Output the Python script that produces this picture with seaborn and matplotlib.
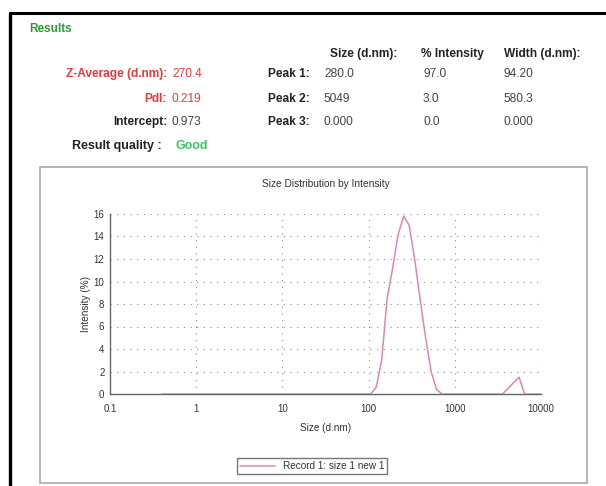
import matplotlib
matplotlib.use("Agg")
import matplotlib.pyplot as plt
import matplotlib.ticker as mticker
from matplotlib.lines import Line2D
from matplotlib.patches import Rectangle
import seaborn as sns

# size distribution (d.nm vs intensity %)
sizes = [0.4, 91.28, 105.7, 122.4, 141.8, 164.2, 190.1, 220.2, 255.0, 295.3, 342.0,
         396.1, 458.7, 531.2, 615.1, 712.4, 3580, 4145, 4801, 5560, 6439, 10000]
intensity = [0.0, 0.0, 0.0, 0.6, 3.0, 8.5, 11.2, 14.2, 15.8, 15.0, 12.0,
             8.4, 5.0, 2.0, 0.4, 0.0, 0.0, 0.5, 1.0, 1.5, 0.0, 0.0]
record_name = "Record 1: size 1 new 1"

# results table
left_labels = ["Z-Average (d.nm):", "PdI:", "Intercept:"]
left_values = ["270.4", "0.219", "0.973"]
left_colors = ["#e23b3b", "#e23b3b", "#222222"]
value_colors = ["#e23b3b", "#e23b3b", "#444444"]
peak_labels = ["Peak 1:", "Peak 2:", "Peak 3:"]
col_headers = ["Size (d.nm):", "% Intensity", "Width (d.nm):"]
peak_size = ["280.0", "5049", "0.000"]
peak_int = ["97.0", "3.0", "0.0"]
peak_width = ["94.20", "580.3", "0.000"]
quality = "Good"

W, H = 606, 486
sns.set_style("white")
plt.rcParams['font.family'] = ['Liberation Sans', 'DejaVu Sans']

fig = plt.figure(figsize=(W / 100, H / 100), dpi=100)

def px(x, y):
    return x / W, 1 - y / H

# outer black frame (only top and left visible) and inner grey box
fig.add_artist(Line2D([9.5 / W, 1], [1 - 13 / H, 1 - 13 / H], color="black", lw=2.2))
fig.add_artist(Line2D([9.5 / W, 9.5 / W], [0, 1 - 13 / H], color="black", lw=2.4))
fig.add_artist(Rectangle(px(40, 483), 547 / W, 316 / H, fill=False,
                         edgecolor="#b0b0b0", lw=1.3))

# header texts
fs = 8.6
fig.text(*px(29, 29), "Results", color="#2f9a35", fontsize=8.5, fontweight="bold", va="center")
for i, h in enumerate(col_headers):
    fig.text(*px([330, 421, 504][i], 54), h, fontsize=fs, fontweight="bold", color="#222", va="center")
rows_y = [74, 99, 122]
for i in range(3):
    y = rows_y[i]
    fig.text(*px(167, y), left_labels[i], fontsize=fs, fontweight="bold", color=left_colors[i],
             ha="right", va="center")
    fig.text(*px(172, y), left_values[i], fontsize=fs, color=value_colors[i], va="center")
    fig.text(*px(268, y), peak_labels[i], fontsize=fs, fontweight="bold", color="#222", va="center")
    fig.text(*px(324, y), peak_size[i], fontsize=fs, color="#444", va="center")
    fig.text(*px(423, y), peak_int[i], fontsize=fs, color="#444", va="center")
    fig.text(*px(504, y), peak_width[i], fontsize=fs, color="#444", va="center")
fig.text(*px(72, 146), "Result quality :", fontsize=9, fontweight="bold", color="#222", va="center")
fig.text(*px(176, 146), quality, fontsize=9, fontweight="bold", color="#3cc46a", va="center")

# chart
ax = fig.add_axes([110 / W, 1 - 394 / H, 431 / W, 180 / H])
sns.lineplot(x=sizes, y=intensity, ax=ax, color="#dc87b6", lw=1.1, label=record_name, zorder=3)
ax.set_xscale("log")
ax.set_xlim(0.1, 10000)
ax.set_ylim(0, 16)
ax.set_yticks(range(0, 17, 2))
ax.yaxis.set_minor_locator(mticker.MultipleLocator(1))
ax.xaxis.set_major_locator(mticker.LogLocator(base=10))
ax.xaxis.set_major_formatter(mticker.FuncFormatter(lambda v, p: f"{v:g}"))
ax.xaxis.set_minor_locator(mticker.LogLocator(base=10, subs=range(2, 10)))
ax.xaxis.set_minor_formatter(mticker.NullFormatter())
ax.grid(True, which="major", color="#8c8c8c", lw=0.8, ls=(0, (1, 5)))
for s in ["top", "right"]:
    ax.spines[s].set_visible(False)
for s in ["left", "bottom"]:
    ax.spines[s].set_color("#666666")
    ax.spines[s].set_linewidth(1.0)
ax.tick_params(which="major", direction="inout", length=4, width=0.8, color="#555",
               labelsize=7, labelcolor="#333", pad=2)
ax.tick_params(axis="x", which="major", pad=5)
ax.tick_params(which="minor", direction="inout", length=2.5, width=0.7, color="#555")
ax.set_xlabel("Size (d.nm)", fontsize=7.2, color="#333", labelpad=7)
ax.set_ylabel("Intensity (%)", fontsize=7.2, color="#333", labelpad=2)
ax.set_title("Size Distribution by Intensity", fontsize=7.3, color="#333", pad=19.5)
ax.legend(loc="center", bbox_to_anchor=px(312, 466), bbox_transform=fig.transFigure,
          fontsize=7.2, frameon=True, fancybox=False, edgecolor="#777777", framealpha=1,
          handlelength=3.5, borderpad=0.3, labelcolor="#333")
ax.get_legend().get_frame().set_linewidth(1.0)

fig.savefig("out.png", dpi=100)
